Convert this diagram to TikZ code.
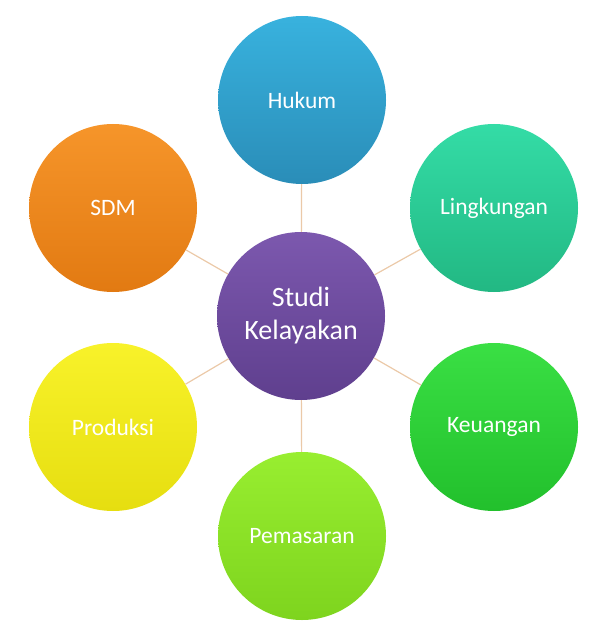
\documentclass[tikz,border=0pt]{standalone}
\usepackage{fontspec}
\setmainfont{Carlito}
\definecolor{hukumA}{HTML}{38B2DE}
\definecolor{hukumB}{HTML}{2A8DB8}
\definecolor{lingA}{HTML}{34DCA6}
\definecolor{lingB}{HTML}{22B883}
\definecolor{sdmA}{HTML}{F6952A}
\definecolor{sdmB}{HTML}{E27A12}
\definecolor{studiA}{HTML}{7C58AE}
\definecolor{studiB}{HTML}{5F3F8E}
\definecolor{prodA}{HTML}{F8F22A}
\definecolor{prodB}{HTML}{E6DE10}
\definecolor{keuA}{HTML}{3ADF44}
\definecolor{keuB}{HTML}{22C02C}
\definecolor{pemA}{HTML}{98EE30}
\definecolor{pemB}{HTML}{7ED41E}
\definecolor{linkcol}{HTML}{EBC9A8}

\begin{document}
\begin{tikzpicture}[x=1pt,y=1pt]
		\tikzstyle{bubble}=[circle,minimum size=168pt,inner sep=0pt,text=white,font=\fontsize{23.5}{26}\selectfont,align=center]
		\tikzstyle{link}=[draw=linkcol,line width=1.2pt]
		\useasboundingbox (0,0) rectangle (600,-636);
		\node [bubble,top color=studiA,bottom color=studiB,font=\fontsize{28}{33}\selectfont] (studi) at (301,-316) {Studi\\Kelayakan};
		\node [bubble,top color=hukumA,bottom color=hukumB] (hukum) at (302,-100) {Hukum};
		\node [bubble,top color=lingA,bottom color=lingB] (ling) at (494,-208) {Lingkungan};
		\node [bubble,top color=keuA,bottom color=keuB] (keu) at (494,-427) {Keuangan};
		\node [bubble,top color=pemA,bottom color=pemB] (pem) at (302,-536) {Pemasaran};
		\node [bubble,top color=prodA,bottom color=prodB] (prod) at (113,-427) {Produksi};
		\node [bubble,top color=sdmA,bottom color=sdmB] (sdm) at (113,-208) {SDM};
		\draw [link] (studi) -- (hukum);
		\draw [link] (studi) -- (ling);
		\draw [link] (studi) -- (keu);
		\draw [link] (studi) -- (pem);
		\draw [link] (studi) -- (prod);
		\draw [link] (studi) -- (sdm);
		\end{tikzpicture}
\end{document}
